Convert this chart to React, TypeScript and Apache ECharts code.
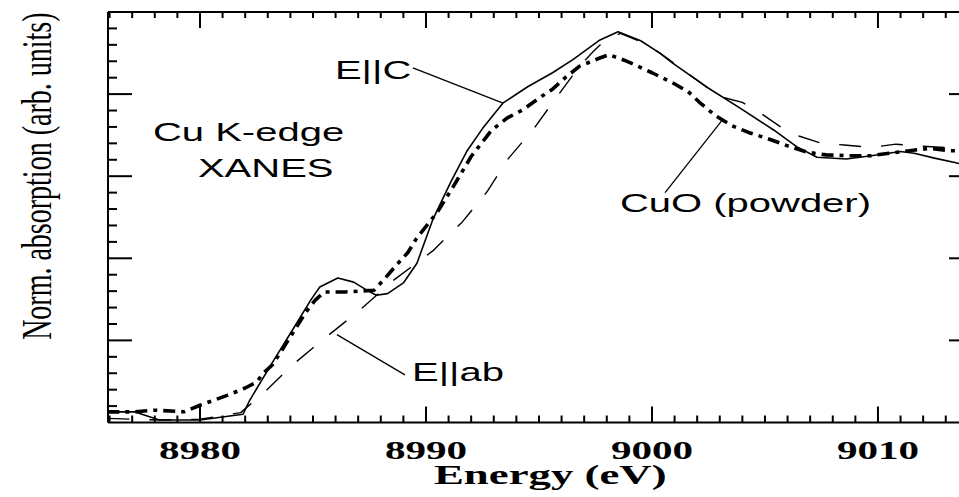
import React, { useEffect, useRef } from "react";
import * as echarts from "echarts";

// ---- axis extents & ticks ----
const energyMin = 8975.93;
const energyMax = 9013.63;
const absMin = 0;
const absMax = 5;
const energyMajorTicks = [8980, 8990, 9000, 9010];
const energyMinorTicks = [
  8976, 8977, 8978, 8979, 8981, 8982, 8983, 8984, 8985, 8986, 8987, 8988, 8989,
  8991, 8992, 8993, 8994, 8995, 8996, 8997, 8998, 8999, 9001, 9002, 9003,
  9004, 9005, 9006, 9007, 9008, 9009, 9011, 9012, 9013,
];
const energyTickLabels = ["8980", "8990", "9000", "9010"];
const absMajorTicks = [1, 2, 3, 4];
const absMinorTicks = [
  0.2, 0.4, 0.6, 0.8, 1.2, 1.4, 1.6, 1.8, 2.2, 2.4, 2.6, 2.8,
  3.2, 3.4, 3.6, 3.8, 4.2, 4.4, 4.6, 4.8,
];

// ---- E||C (thin solid) ----
const eIIcEnergy = [
  8975.9, 8977.1, 8978.2, 8980.0, 8981.9, 8982.2, 8983.2, 8984.1, 8984.9, 8985.3, 8986.1,
  8986.8, 8987.4, 8987.8, 8988.3, 8989.0, 8989.6, 8990.3, 8991.1, 8991.8, 8992.5, 8993.4,
  8994.5, 8995.6, 8996.5, 8997.7, 8998.5, 8999.5, 9000.35, 9000.9, 9002.4, 9003.9, 9005.4,
  9006.4, 9007.3, 9008.6, 9009.7, 9011.0, 9011.6, 9012.5, 9013.5, 9013.7,
];
const eIIcAbs = [
  0.13, 0.13, 0.03, 0.03, 0.1, 0.27, 0.73, 1.13, 1.49, 1.65, 1.76,
  1.71, 1.61, 1.55, 1.57, 1.7, 1.94, 2.47, 2.93, 3.3, 3.58, 3.89,
  4.09, 4.26, 4.42, 4.66, 4.76, 4.65, 4.5, 4.38, 4.09, 3.83, 3.56,
  3.36, 3.23, 3.21, 3.25, 3.3, 3.28, 3.22, 3.16, 3.15,
];

// ---- CuO (powder) (thick dash-dot) ----
const cuoEnergy = [
  8975.9, 8977.1, 8978.0, 8979.3, 8980.0, 8980.6, 8981.2, 8982.0, 8982.5, 8982.8, 8983.2,
  8983.9, 8984.7, 8985.1, 8985.5, 8986.4, 8987.7, 8988.2, 8988.7, 8989.2, 8989.6, 8990.5,
  8991.2, 8992.0, 8992.9, 8993.6, 8994.3, 8995.0, 8995.6, 8996.2, 8996.8, 8997.6, 8998.1,
  8998.8, 8999.3, 9000.0, 9000.9, 9001.6, 9002.1, 9002.8, 9003.5, 9004.3, 9005.1, 9006.0,
  9006.9, 9007.7, 9008.6, 9009.7, 9010.5, 9011.4, 9012.3, 9013.2, 9013.7,
];
const cuoAbs = [
  0.13, 0.13, 0.15, 0.13, 0.21, 0.27, 0.33, 0.42, 0.49, 0.6, 0.7,
  1.0, 1.35, 1.49, 1.59, 1.59, 1.61, 1.76, 1.92, 2.07, 2.25, 2.56,
  2.87, 3.24, 3.56, 3.71, 3.81, 3.95, 4.06, 4.21, 4.34, 4.43, 4.48,
  4.41, 4.35, 4.26, 4.14, 4.03, 3.9, 3.74, 3.62, 3.53, 3.46, 3.37,
  3.29, 3.26, 3.25, 3.25, 3.28, 3.31, 3.34, 3.31, 3.31,
];

// ---- E||ab (thin long dashes) ----
const eIIabEnergy = [
  8975.9, 8978.2, 8980.0, 8981.8, 8982.9, 8984.0, 8985.4, 8986.9, 8988.6, 8990.3, 8991.6,
  8992.7, 8993.6, 8994.8, 8995.8, 8996.8, 8997.4, 8997.9, 8998.6, 8999.5, 9000.35, 9001.7,
  9003.0, 9004.0, 9004.9, 9005.7, 9006.5, 9007.5, 9008.5, 9009.7, 9010.8, 9011.7, 9013.5,
];
const eIIabAbs = [
  0.05, 0.03, 0.04, 0.12, 0.38, 0.68, 1.0, 1.33, 1.74, 2.09, 2.44,
  2.81, 3.2, 3.59, 3.97, 4.34, 4.52, 4.65, 4.74, 4.64, 4.5, 4.23,
  3.97, 3.9, 3.75, 3.6, 3.49, 3.4, 3.38, 3.35, 3.39, 3.37, 3.34,
];

// ---- annotations (data coordinates) ----
const labelEIIc = { text: "E||C", at: [8989.35, 4.29], align: "right" };
const leaderEIIc = [[8989.42, 4.32], [8993.41, 3.89]];
const labelCuK = { text: "Cu K-edge", at: [8977.92, 3.53], align: "left" };
const labelXanes = { text: "XANES", at: [8979.91, 3.1], align: "left" };
const labelCuO = { text: "CuO (powder)", at: [8998.58, 2.67], align: "left" };
const leaderCuO = [[9003.1, 3.68], [9000.58, 2.8]];
const labelEIIab = { text: "E||ab", at: [8989.38, 0.615], align: "left" };
const leaderEIIab = [[8986.06, 1.07], [8989.07, 0.58]];

const xTitle = "Energy (eV)";
const yTitle = "Norm. absorption (arb. units)";

const SANS = '"Liberation Sans", Arial, sans-serif';
const SERIF = '"Liberation Serif", "Times New Roman", serif';

export default function App() {
  const ref = useRef<HTMLDivElement>(null);

  useEffect(() => {
    if (!ref.current) return;
    const chart = echarts.init(ref.current, null, { renderer: "svg" });

    const hidden = { show: false };
    chart.setOption({
      animation: false,
      grid: { left: 108, top: 12, right: 2, bottom: 74.5 },
      xAxis: { type: "value", min: energyMin, max: energyMax, axisLine: hidden, axisTick: hidden, axisLabel: hidden, splitLine: hidden },
      yAxis: { type: "value", min: absMin, max: absMax, axisLine: hidden, axisTick: hidden, axisLabel: hidden, splitLine: hidden },
      series: [
        {
          name: "E||ab",
          type: "line",
          symbol: "none",
          data: eIIabEnergy.map((e, i) => [e, eIIabAbs[i]]),
          lineStyle: { color: "#000", width: 1.4, type: [22, 20] },
        },
        {
          name: "CuO (powder)",
          type: "line",
          symbol: "none",
          data: cuoEnergy.map((e, i) => [e, cuoAbs[i]]),
          lineStyle: { color: "#000", width: 3.6, type: [12, 6, 4, 6] },
        },
        {
          name: "E||C",
          type: "line",
          symbol: "none",
          data: eIIcEnergy.map((e, i) => [e, eIIcAbs[i]]),
          lineStyle: { color: "#000", width: 1.6 },
        },
      ],
    });

    const px = (p: number[]) =>
      chart.convertToPixel({ xAxisIndex: 0, yAxisIndex: 0 }, p) as unknown as number[];
    const [xL, yB] = px([energyMin, absMin]);
    const [xR, yT] = px([energyMax, absMax]);

    const seg = (x1: number, y1: number, x2: number, y2: number, w: number) => ({
      type: "line",
      z: 50,
      shape: { x1, y1, x2, y2 },
      style: { stroke: "#000", lineWidth: w },
    });

    const els: any[] = [];
    // frame
    els.push(seg(xL, yB, xR, yB, 2));
    els.push(seg(xL, yT, xR, yT, 2));
    els.push(seg(xL, yT, xL, yB, 2));
    els.push(seg(xR, yT, xR, yB, 2));
    // x ticks (bottom and top)
    energyMajorTicks.forEach((v) => {
      const x = px([v, absMin])[0];
      els.push(seg(x, yB, x, yB - 16, 2));
      els.push(seg(x, yT, x, yT + 16, 2));
    });
    energyMinorTicks.forEach((v) => {
      const x = px([v, absMin])[0];
      els.push(seg(x, yB, x, yB - 7, 2));
      els.push(seg(x, yT, x, yT + 6, 2));
    });
    // y ticks (left and right)
    absMajorTicks.forEach((v) => {
      const y = px([energyMin, v])[1];
      els.push(seg(xL, y, xL + 24, y, 2));
      els.push(seg(xR, y, xR - 11, y, 2));
    });
    absMinorTicks.forEach((v) => {
      const y = px([energyMin, v])[1];
      els.push(seg(xL, y, xL + 9, y, 2));
    });
    // leader lines
    [leaderEIIc, leaderCuO, leaderEIIab].forEach((s) => {
      const [x1, y1] = px(s[0]);
      const [x2, y2] = px(s[1]);
      els.push(seg(x1, y1, x2, y2, 1.3));
    });
    // tick labels
    energyMajorTicks.forEach((v, i) => {
      const x = px([v, absMin])[0];
      els.push({
        type: "text",
        x,
        y: yB + 27,
        scaleX: 1.58,
        z: 50,
        style: {
          text: energyTickLabels[i],
          fontFamily: SERIF,
          fontWeight: "bold",
          fontSize: 26,
          fill: "#000",
          align: "center",
          verticalAlign: "middle",
        },
      });
    });
    // axis titles
    els.push({
      type: "text",
      x: px([8995.5, absMin])[0],
      y: yB + 52,
      scaleX: 1.66,
      z: 50,
      style: {
        text: xTitle,
        fontFamily: SERIF,
        fontWeight: "bold",
        fontSize: 27,
        fill: "#000",
        align: "center",
        verticalAlign: "middle",
      },
    });
    els.push({
      type: "text",
      x: xL - 71,
      y: px([energyMin, 3.0])[1],
      rotation: Math.PI / 2,
      scaleY: 1.5,
      z: 50,
      style: {
        text: yTitle,
        fontFamily: SERIF,
        fontSize: 28,
        fill: "#000",
        align: "center",
        verticalAlign: "middle",
      },
    });
    // annotation labels
    [labelEIIc, labelCuK, labelXanes, labelCuO, labelEIIab].forEach((l) => {
      const [x, y] = px(l.at);
      els.push({
        type: "text",
        x,
        y,
        scaleX: 1.6,
        z: 50,
        style: {
          text: l.text,
          fontFamily: SANS,
          fontSize: 25,
          fill: "#000",
          align: l.align,
          verticalAlign: "middle",
        },
      });
    });

    chart.setOption({ graphic: els });

    return () => chart.dispose();
  }, []);

  return (
    <div
      style={{
        position: "fixed",
        left: 0,
        top: 0,
        width: 959,
        height: 497,
        overflow: "hidden",
        background: "#fff",
      }}
    >
      <div ref={ref} style={{ width: 962, height: 497 }} />
    </div>
  );
}
